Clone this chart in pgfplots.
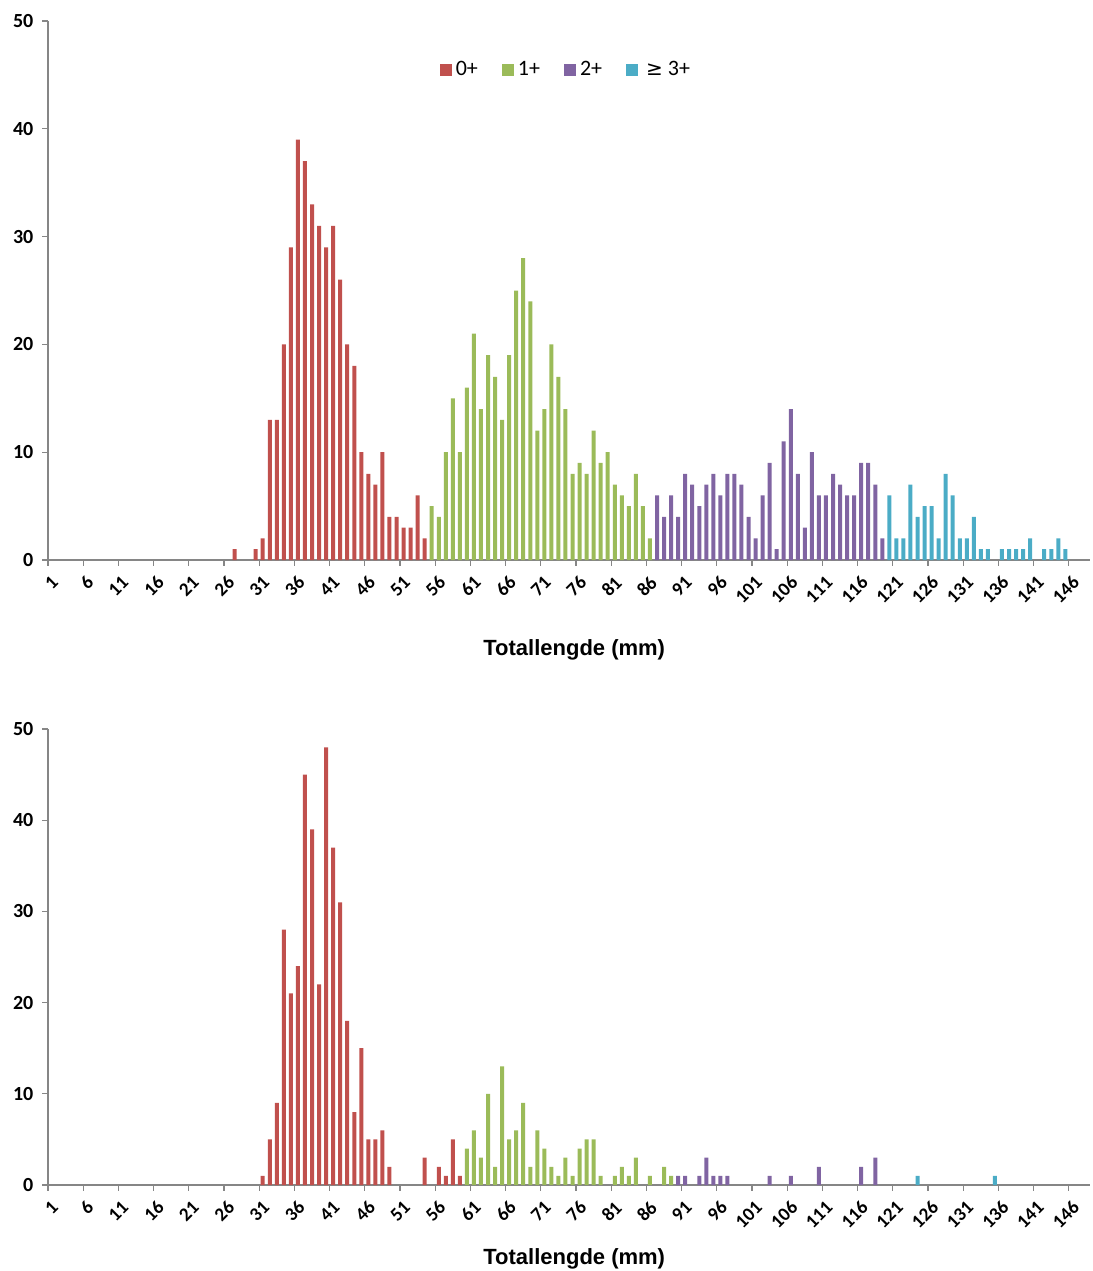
\documentclass[border=0pt]{standalone}
\usepackage{fontspec}
\setmainfont{Carlito}
\newfontfamily\titlefont{Liberation Sans}
\newfontfamily\symfont{DejaVu Sans}
\usepackage{pgfplots}
\pgfplotsset{compat=1.18}
\definecolor{c0}{HTML}{C0504D}
\definecolor{c1}{HTML}{9BBB59}
\definecolor{c2}{HTML}{8064A2}
\definecolor{c3}{HTML}{4BACC6}
\definecolor{axgray}{HTML}{868686}
\pgfplotsset{
  mybar/.style={ybar, bar width=2pt, bar shift=0pt, draw=none, fill=#1,
    legend image code/.code={\fill[#1] (0pt,-3pt) rectangle (6pt,3pt);}},
  histo/.style={
    scale only axis, width=521pt,
    xmin=0.5, xmax=148.5, ymin=0, ymax=50,
    axis x line*=bottom, axis y line*=left,
    axis line style={-, draw=axgray, line width=0.75pt},
    tick align=outside, major tick length=2.8pt,
    tick style={draw=axgray, line width=0.6pt},
    ytick={0,10,...,50},
    xtick={0.5,5.5,...,145.5},
    xticklabel={\pgfmathtruncatemacro\lab{round(\tick+0.5)}\lab},
    xticklabel style={font=\bfseries\fontsize{9.5}{9.5}\selectfont, xshift=1.2pt, yshift=-3pt, rotate=45, anchor=north east, inner sep=1pt},
    yticklabel style={font=\bfseries\fontsize{10}{10}\selectfont, xshift=-1pt},
    /pgf/number format/assume math mode=true,
    xlabel style={font=\titlefont\bfseries\fontsize{11}{11}\selectfont, at={(axis description cs:0.505,0)}, anchor=center},
    clip=false,
  }
}
\begin{document}
\begin{tikzpicture}
\path[use as bounding box] (0,0) rectangle (546.5pt,-635.5pt);
\begin{axis}[histo, at={(24pt,-280pt)}, anchor=south west, height=269.5pt,
  xlabel={Totallengde (mm)}, xlabel style={yshift=-45pt},
  legend style={at={(0.498,0.909)}, anchor=center, draw=none, fill=none, legend columns=4,
    font=\fontsize{11}{11}\selectfont, /tikz/every even column/.append style={column sep=10pt}},
  legend cell align=left]
\addplot[mybar=c0] coordinates {(27,1)(30,1)(31,2)(32,13)(33,13)(34,20)(35,29)(36,39)(37,37)(38,33)(39,31)(40,29)(41,31)(42,26)(43,20)(44,18)(45,10)(46,8)(47,7)(48,10)(49,4)(50,4)(51,3)(52,3)(53,6)(54,2)};
\addlegendentry{0+}
\addplot[mybar=c1] coordinates {(55,5)(56,4)(57,10)(58,15)(59,10)(60,16)(61,21)(62,14)(63,19)(64,17)(65,13)(66,19)(67,25)(68,28)(69,24)(70,12)(71,14)(72,20)(73,17)(74,14)(75,8)(76,9)(77,8)(78,12)(79,9)(80,10)(81,7)(82,6)(83,5)(84,8)(85,5)(86,2)};
\addlegendentry{1+}
\addplot[mybar=c2] coordinates {(87,6)(88,4)(89,6)(90,4)(91,8)(92,7)(93,5)(94,7)(95,8)(96,6)(97,8)(98,8)(99,7)(100,4)(101,2)(102,6)(103,9)(104,1)(105,11)(106,14)(107,8)(108,3)(109,10)(110,6)(111,6)(112,8)(113,7)(114,6)(115,6)(116,9)(117,9)(118,7)(119,2)};
\addlegendentry{2+}
\addplot[mybar=c3] coordinates {(120,6)(121,2)(122,2)(123,7)(124,4)(125,5)(126,5)(127,2)(128,8)(129,6)(130,2)(131,2)(132,4)(133,1)(134,1)(136,1)(137,1)(138,1)(139,1)(140,2)(142,1)(143,1)(144,2)(145,1)};
\addlegendentry{\hspace{2pt}{\symfont\fontsize{10}{10}\selectfont ≥} 3+}
\end{axis}
\begin{axis}[histo, at={(24pt,-592.5pt)}, anchor=south west, height=228pt,
  xlabel={Totallengde (mm)}, xlabel style={yshift=-37pt}]
\addplot[mybar=c0] coordinates {(31,1)(32,5)(33,9)(34,28)(35,21)(36,24)(37,45)(38,39)(39,22)(40,48)(41,37)(42,31)(43,18)(44,8)(45,15)(46,5)(47,5)(48,6)(49,2)(54,3)(56,2)(57,1)(58,5)(59,1)};
\addplot[mybar=c1] coordinates {(60,4)(61,6)(62,3)(63,10)(64,2)(65,13)(66,5)(67,6)(68,9)(69,2)(70,6)(71,4)(72,2)(73,1)(74,3)(75,1)(76,4)(77,5)(78,5)(79,1)(81,1)(82,2)(83,1)(84,3)(86,1)(88,2)(89,1)};
\addplot[mybar=c2] coordinates {(90,1)(91,1)(93,1)(94,3)(95,1)(96,1)(97,1)(103,1)(106,1)(110,2)(116,2)(118,3)};
\addplot[mybar=c3] coordinates {(124,1)(135,1)};
\end{axis}
\end{tikzpicture}
\end{document}
